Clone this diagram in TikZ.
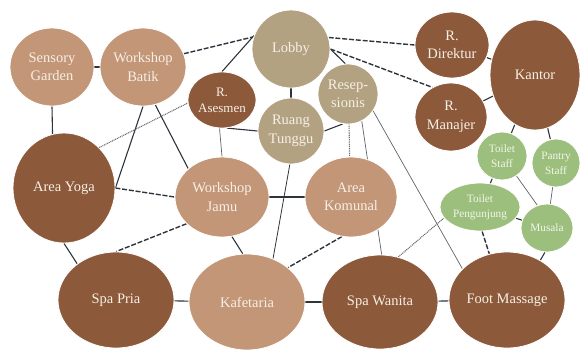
\documentclass[tikz,border=0pt]{standalone}
\usepackage{fontspec}
\setmainfont{Liberation Serif}
\usetikzlibrary{shapes.geometric}
\pgfdeclarelayer{bg}
\pgfsetlayers{bg,main}
\definecolor{cTan}{HTML}{C29676}
\definecolor{cBrown}{HTML}{8C5A3B}
\definecolor{cGray}{HTML}{B3A282}
\definecolor{cGreen}{HTML}{9DBF7D}
\definecolor{cText}{HTML}{F7EFE6}
\definecolor{cGText}{HTML}{F1F6EA}
\definecolor{cLine}{HTML}{2E343C}
\definecolor{cThin}{HTML}{5E6268}
\definecolor{cDot}{HTML}{6A6D72}
\tikzset{
  room/.style={ellipse, draw=white, line width=0.8pt, inner sep=0pt, align=center,
    font=\fontsize{14.5}{18.5}\selectfont},
  lt/.style={room, fill=cTan, text=cText},
  dk/.style={room, fill=cBrown, text=cText},
  gy/.style={room, fill=cGray, text=cText},
  gr/.style={room, fill=cGreen, text=cGText, font=\fontsize{11.3}{15}\selectfont},
  ln/.style={draw=cLine, line width=1.1pt},
  dsh/.style={draw=cLine, line width=1.4pt, dash pattern=on 5pt off 1.8pt},
  dt/.style={draw=cDot, line width=1.1pt, dash pattern=on 1pt off 0.8pt},
  thn/.style={draw=cThin, line width=0.7pt}
}
\begin{document}
\begin{tikzpicture}[x=1pt, y=-1pt]
\useasboundingbox (0,0) rectangle (580,349);
% nodes
\node[lt, minimum width=84pt, minimum height=78pt] (sg) at (52,67) {Sensory\\Garden};
\node[lt, minimum width=86pt, minimum height=78pt] (wb) at (143,67) {Workshop\\Batik};
\node[gy, minimum width=78pt, minimum height=78pt] (lb) at (291,49) {Lobby};
\node[dk, minimum width=68pt, minimum height=56pt, font=\fontsize{13}{16}\selectfont] (ra) at (222,100) {R.\\Asesmen};
\node[gy, minimum width=66pt, minimum height=66pt] (rt) at (291,131) {Ruang\\Tunggu};
\node[gy, minimum width=60pt, minimum height=60pt] (rs) at (348,94) {Resep-\\sionis};
\node[dk, minimum width=74pt, minimum height=66pt] (rd) at (452,45) {R.\\Direktur};
\node[dk, minimum width=72pt, minimum height=68pt] (rm) at (451,117) {R.\\Manajer};
\node[dk, minimum width=90pt, minimum height=110pt] (kt) at (535,75) {Kantor};
\node[gr, minimum width=50pt, minimum height=48pt] (ts) at (502,156) {Toilet\\Staff};
\node[gr, minimum width=48pt, minimum height=48pt] (ps) at (556,163) {Pantry\\Staff};
\node[gr, minimum width=80pt, minimum height=48pt] (tp) at (480,207) {Toilet\\Pengunjung};
\node[gr, minimum width=52pt, minimum height=48pt] (mu) at (547,228) {Musala};
\node[dk, minimum width=102pt, minimum height=110pt] (ay) at (64,188) {Area Yoga};
\node[lt, minimum width=94pt, minimum height=80pt] (wj) at (222,197) {Workshop\\Jamu};
\node[lt, minimum width=92pt, minimum height=80pt] (ak) at (351,197) {Area\\Komunal};
\node[dk, minimum width=116pt, minimum height=96pt] (sp) at (116,300) {Spa Pria};
\node[lt, minimum width=116pt, minimum height=96pt] (kf) at (247,302) {Kafetaria};
\node[dk, minimum width=116pt, minimum height=94pt] (sw) at (380,302) {Spa Wanita};
\node[dk, minimum width=116pt, minimum height=96pt] (fm) at (507,300) {Foot Massage};
% connectors
\begin{pgfonlayer}{bg}
\draw[ln] (sg) -- (wb);
\draw[ln] (sg.south) -- (ay.102);
\draw[dsh] (wb.18) -- (lb.162);
\draw[ln] (lb.160) -- (ra.north);
\draw[ln] (wb.-72) -- (wj.140);
\draw[ln] (wb.south) -- (ay.east);
\draw[dsh] (ay.east) -- (wj.west);
\draw[dt] (ay.49) -- (ra.185);
\draw[ln] (ay.south) -- (sp.137);
\draw[dsh] (wj.217) -- (sp.north);
\draw[ln] (wj.-76) -- (kf.95);
\draw[ln] (wj.east) -- (ak.west);
\draw[ln] (ra.-80) -- (rt.west);
\draw[thn] (ra.-95) -- (wj.north);
\draw[ln] (lb.south) -- (rt.north);
\draw[dsh] (lb.17) -- (rd.west);
\draw[dsh] (lb.0) -- (rm.122);
\draw[ln] (lb.0) -- (rs.95);
\draw[ln] (rs.-100) -- (rt.east);
\draw[dt] (rs.-88) -- (ak.92);
\draw[thn] (rs.-63) -- (sw.88);
\draw[thn] (rs.-34) -- (fm.145);
\draw[ln, line width=0.8pt] (rt.-92) -- (kf.59);
\draw[dsh] (ak.-103) -- (kf.40);
\draw[ln] (kf) -- (sp);
\draw[ln] (kf) -- (sw);
\draw[ln] (sw) -- (fm);
\draw[dt] (sw.68) -- (tp.197);
\draw[dsh] (tp.-85) -- (fm.111);
\draw[ln] (tp) -- (mu);
\draw[ln] (mu.-95) -- (fm.50);
\draw[ln] (ts) -- (tp);
\draw[thn] (ts.-54) -- (mu.113);
\draw[thn] (ps) -- (mu);
\draw[ln] (kt) -- (ts);
\draw[ln] (kt) -- (ps);
\draw[ln] (kt) -- (rd);
\draw[ln] (kt) -- (rm);
\end{pgfonlayer}
\end{tikzpicture}
\end{document}
